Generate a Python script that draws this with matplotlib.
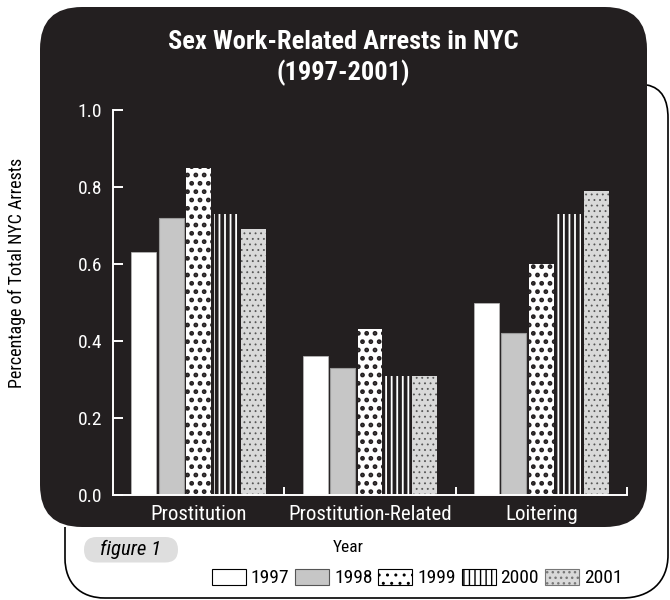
import numpy as np
import matplotlib
matplotlib.use('Agg')
import matplotlib.pyplot as plt
from matplotlib import font_manager
from matplotlib.patches import FancyBboxPatch, PathPatch, Patch
from matplotlib.path import Path

# data
categories = ['Prostitution', 'Prostitution-Related', 'Loitering']
years = ['1997', '1998', '1999', '2000', '2001']
arrests_1997 = [0.63, 0.36, 0.50]
arrests_1998 = [0.72, 0.33, 0.42]
arrests_1999 = [0.85, 0.43, 0.60]
arrests_2000 = [0.73, 0.31, 0.73]
arrests_2001 = [0.69, 0.31, 0.79]
yticks = [0.0, 0.2, 0.4, 0.6, 0.8, 1.0]

# pick a narrow font if there is one
avail = {f.name for f in font_manager.fontManager.ttflist}
fam = 'DejaVu Sans'
for cand in ['Liberation Sans Narrow', 'Roboto Condensed', 'Open Sans Condensed', 'Roboto']:
    if cand in avail:
        fam = cand
        break
plt.rcParams['font.family'] = [fam, 'DejaVu Sans']

dark = '#231f20'

fig = plt.figure(figsize=(6.7, 6.0), dpi=100)

# black rounded panel behind the chart
panel = FancyBboxPatch((0.40, 0.73), 6.07, 5.20, boxstyle='round,pad=0,rounding_size=0.42',
                       transform=fig.dpi_scale_trans, facecolor=dark, edgecolor='none', zorder=-10)
fig.add_artist(panel)

# outer frame line (pixel coords -> inches)
px = [(647, 85), (662, 88), (668, 100), (668, 118), (668, 555), (668, 582), (650, 598), (622, 598),
      (105, 598), (80, 598), (65, 583), (65, 558), (65, 527)]
codes = [Path.MOVETO, Path.CURVE4, Path.CURVE4, Path.CURVE4, Path.LINETO, Path.CURVE4, Path.CURVE4,
         Path.CURVE4, Path.LINETO, Path.CURVE4, Path.CURVE4, Path.CURVE4, Path.LINETO]
verts = [(x / 100, (600 - y) / 100) for x, y in px]
frame = PathPatch(Path(verts, codes), transform=fig.dpi_scale_trans, facecolor='none',
                  edgecolor='black', linewidth=1.2, zorder=-11)
fig.add_artist(frame)

# grey pill behind "figure 1"
pill = FancyBboxPatch((0.84, 0.375), 0.94, 0.255, boxstyle='round,pad=0,rounding_size=0.127',
                      transform=fig.dpi_scale_trans, facecolor='#dedede', edgecolor='none', zorder=-9)
fig.add_artist(pill)

ax = fig.add_axes([113 / 670, 1 - 495 / 600, (627 - 113) / 670, (495 - 110) / 600])
ax.set_facecolor('none')

x = np.arange(len(categories)) + 0.5
w = 0.145
step = 0.16

styles = [
    dict(color='white', edgecolor='#bbbbbb', linewidth=0.5),
    dict(color='#c6c6c6', edgecolor='#9a9a9a', linewidth=0.8),
    dict(facecolor='white', edgecolor=dark, linewidth=0, hatch='..'),
    dict(facecolor=dark, edgecolor='white', linewidth=0, hatch='|||'),
    dict(facecolor='#d9d9d9', edgecolor='#555555', linewidth=0, hatch='...'),
]
hatch_lw = [1.0, 1.0, 2.2, 1.3, 0.6]
series = [arrests_1997, arrests_1998, arrests_1999, arrests_2000, arrests_2001]

for i, (vals, st) in enumerate(zip(series, styles)):
    with plt.rc_context({'hatch.linewidth': hatch_lw[i]}):
        ax.bar(x + (i - 2) * step, vals, w, **st)

ax.set_xlim(0, 3)
ax.set_ylim(0, 1.0)
ax.set_yticks(yticks)
ax.set_yticklabels([f'{v:.1f}' for v in yticks])
ax.set_xticks(x)
ax.set_xticklabels(categories)
ax.set_xticks([1, 2, 3], minor=True)

for s in ['top', 'right']:
    ax.spines[s].set_visible(False)
for s in ['left', 'bottom']:
    ax.spines[s].set_color('white')
    ax.spines[s].set_linewidth(1.4)

ax.tick_params(axis='y', direction='in', length=7, width=1.4, color='white',
               labelcolor='white', labelsize=14, pad=8)
ax.tick_params(axis='x', which='major', length=0, labelcolor='white', labelsize=15, pad=7)
ax.tick_params(axis='x', which='minor', direction='in', length=6, width=1.4, color='white')

fig.text(343 / 670, 1 - 42 / 600, 'Sex Work-Related Arrests in NYC',
         ha='center', va='center', color='white', fontsize=19, fontweight='bold')
fig.text(343 / 670, 1 - 73 / 600, '(1997-2001)',
         ha='center', va='center', color='white', fontsize=19, fontweight='bold')

fig.text(17 / 670, 1 - 273 / 600, 'Percentage of Total NYC Arrests', rotation=90,
         ha='center', va='center', fontsize=13, color='black')

fig.text(131 / 670, 1 - 549 / 600, 'figure 1', style='italic', fontsize=15, ha='center', va='center')

fig.text(348 / 670, 1 - 548 / 600, 'Year', ha='center', va='center', fontsize=12.5)

# legend swatches, outlined like the printed key
leg_styles = [
    dict(facecolor='white', edgecolor='black', linewidth=0.8),
    dict(facecolor='#c6c6c6', edgecolor='#555555', linewidth=0.8),
    dict(facecolor='white', edgecolor='black', linewidth=0.8, hatch='..'),
    dict(facecolor='white', edgecolor='black', linewidth=0.8, hatch='|||'),
    dict(facecolor='#d9d9d9', edgecolor='#777777', linewidth=0.8, hatch='...'),
]
leg_lw = [1.0, 1.0, 1.6, 1.3, 0.6]
handles = []
for i, st in enumerate(leg_styles):
    with plt.rc_context({'hatch.linewidth': leg_lw[i]}):
        handles.append(Patch(label=years[i], **st))

fig.legend(handles=handles, loc='center', bbox_to_anchor=(417 / 670, 1 - 578 / 600), ncol=5,
           frameon=False, fontsize=14, handlelength=1.75, handleheight=0.9, handletextpad=0.25,
           columnspacing=0.3, borderpad=0)

fig.savefig('out.png', dpi=100)
